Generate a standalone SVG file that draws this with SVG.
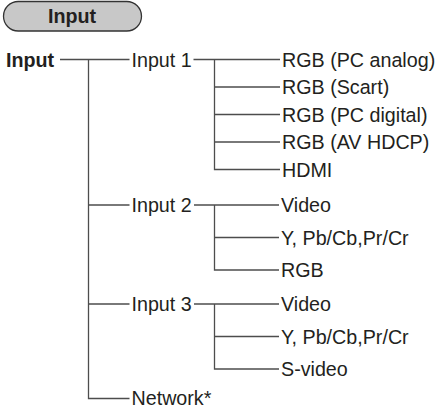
<svg xmlns="http://www.w3.org/2000/svg" width="439" height="409" viewBox="0 0 439 409">
<style>
.t{font-family:"Liberation Sans",Arial,sans-serif;font-size:19.7px;fill:#231f20}
.b{font-weight:bold}
.c{stroke:#4d4d4d;stroke-width:1.3;fill:none}
</style>
<rect width="439" height="409" fill="#fff"/>
<g id="header">
<rect x="3.5" y="1.5" width="138" height="29.5" rx="14.75" fill="#c8c8c8" stroke="#333" stroke-width="1.3"/>
<text class="t b" x="72" y="22.5" text-anchor="middle" fill="#333">Input</text>
</g>
<g id="connectors">
<path class="c" d="M60 59.5H129.5M88.5 59.5V398.5H129.5M88.5 205H129.5M88.5 304H129.5"/>
<path class="c" d="M193.5 59.5H280M214.5 59.5V169.5H280M214.5 87H280M214.5 114.5H280M214.5 142H280"/>
<path class="c" d="M194 205H279M214.5 205V270H279M214.5 237.5H279"/>
<path class="c" d="M194 304H279M214.5 304V369H279M214.5 336.5H279"/>
</g>
<g id="root"><text class="t b" x="6" y="66.5">Input</text></g>
<g id="input1"><text class="t" x="131.5" y="66.7">Input 1</text></g>
<g id="input2"><text class="t" x="131.5" y="212.2">Input 2</text></g>
<g id="input3"><text class="t" x="131.5" y="311.2">Input 3</text></g>
<g id="network"><text class="t" x="131.5" y="404.6">Network*</text></g>
<g id="rgb-pc-analog"><text class="t" x="282" y="66.7">RGB (PC analog)</text></g>
<g id="rgb-scart"><text class="t" x="282" y="94.2">RGB (Scart)</text></g>
<g id="rgb-pc-digital"><text class="t" x="282" y="121.7">RGB (PC digital)</text></g>
<g id="rgb-av-hdcp"><text class="t" x="282" y="149.2">RGB (AV HDCP)</text></g>
<g id="hdmi"><text class="t" x="282" y="176.7">HDMI</text></g>
<g id="video2"><text class="t" x="281" y="212.2">Video</text></g>
<g id="ypbpr2"><text class="t" x="281" y="244.7">Y, Pb/Cb,Pr/Cr</text></g>
<g id="rgb2"><text class="t" x="281" y="277.2">RGB</text></g>
<g id="video3"><text class="t" x="281" y="311.2">Video</text></g>
<g id="ypbpr3"><text class="t" x="281" y="343.7">Y, Pb/Cb,Pr/Cr</text></g>
<g id="svideo"><text class="t" x="281" y="376.2">S-video</text></g>
</svg>
